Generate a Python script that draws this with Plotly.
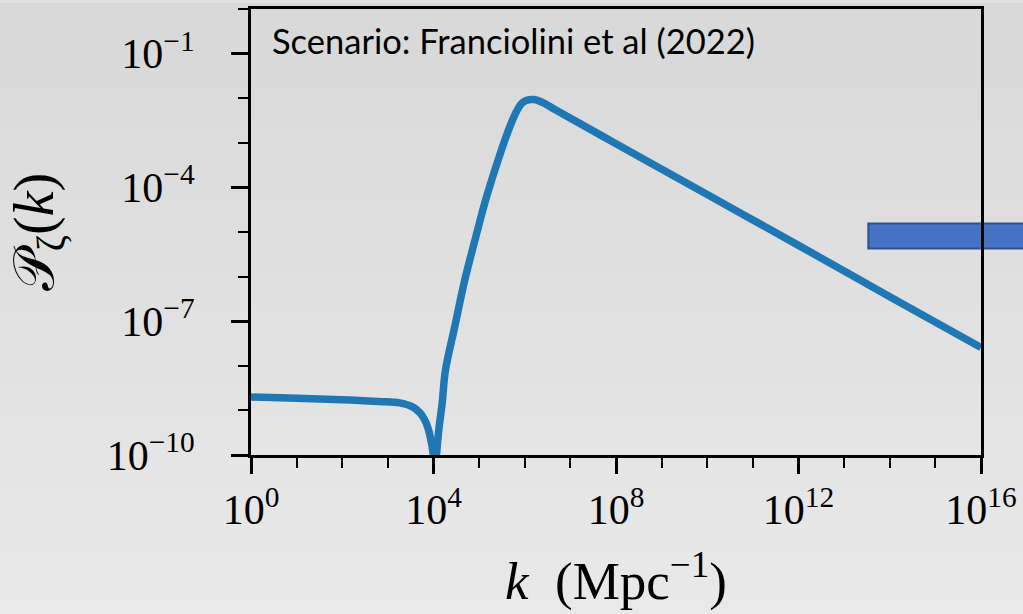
import numpy as np
import plotly.graph_objects as go

# ---- data (log10 values) ----
log_k = [0.00, 1.00, 2.00, 2.80, 3.26, 3.54, 3.70, 3.80, 3.88, 3.94, 3.99, 4.03,
         4.07, 4.12, 4.19, 4.26, 4.46, 4.68, 4.94, 5.11, 5.33, 5.55, 5.77, 5.92,
         6.03, 6.21, 6.40, 6.69, 8.00, 10.00, 12.00, 14.00, 16.00]
log_P = [-8.70, -8.73, -8.76, -8.80, -8.83, -8.92, -9.05, -9.20, -9.40, -9.65, -9.95, -10.6,
         -9.95, -9.40, -8.84, -8.11, -7.15, -6.10, -5.06, -4.40, -3.66, -2.98, -2.40, -2.13,
         -2.05, -2.03, -2.10, -2.27, -3.02, -4.16, -5.30, -6.45, -7.59]
k_vals = [10.0 ** v for v in log_k]
P_vals = [10.0 ** v for v in log_P]

x_major_exp = [0, 4, 8, 12, 16]
x_minor_exp = list(range(0, 17))
y_major_exp = [-10, -7, -4, -1]
y_minor_exp = list(range(-10, 1))

def pow_label(e):
    s = str(e).replace("-", "\u2212")
    return f"10<sup>{s}</sup>"

fig = go.Figure()
fig.add_trace(go.Scatter(x=k_vals, y=P_vals, mode="lines",
                         line=dict(color="#1f77b4", width=7.5, shape="spline", smoothing=1.0),
                         showlegend=False))

serif = "Liberation Serif, DejaVu Serif, serif"

fig.update_xaxes(type="log", range=[0, 16],
                 tickvals=[10.0 ** e for e in x_major_exp],
                 ticktext=[pow_label(e) for e in x_major_exp],
                 ticks="outside", ticklen=16, tickwidth=3, tickcolor="black",
                 showline=True, linewidth=3, linecolor="black", mirror=True,
                 showgrid=False, zeroline=False,
                 tickfont=dict(family=serif, size=42, color="black"),
                 minor=dict(tickvals=[10.0 ** e for e in x_minor_exp], ticks="outside",
                            ticklen=10, tickwidth=2, tickcolor="black", showgrid=False),
                 title=dict(text="<i>k</i>  (Mpc<sup>\u22121</sup>)",
                            font=dict(family=serif, size=53, color="black"), standoff=30))
fig.update_yaxes(type="log", range=[-10, 0],
                 tickvals=[10.0 ** e for e in y_major_exp],
                 ticktext=[pow_label(e) for e in y_major_exp],
                 ticks="outside", ticklen=17, tickwidth=3, tickcolor="black",
                 showline=True, linewidth=3, linecolor="black", mirror=True,
                 showgrid=False, zeroline=False,
                 tickfont=dict(family=serif, size=42, color="black"),
                 ticklabelstandoff=28,
                 minor=dict(tickvals=[10.0 ** e for e in y_minor_exp], ticks="outside",
                            ticklen=10, tickwidth=2, tickcolor="black", showgrid=False),
                 title=dict(text="\U0001D4AB<sub>\u03b6</sub>(<i>k</i>)",
                            font=dict(family=serif, size=56, color="black"), standoff=36))

# background gradient (paper coordinates, extended into margins)
L, R, T, B = 251, 983, 6, 455
W, H = 1023, 614
def px2x(px):
    return (px - L) / (R - L)
def py2y(py):
    return (B - py) / (B - T)

shapes = []
n = 40
c_top = np.array([0xd8, 0xd8, 0xd8])
c_bot = np.array([0xe9, 0xe9, 0xe9])
for i in range(n):
    y0p = H * i / n
    y1p = H * (i + 1) / n
    c = c_top + (c_bot - c_top) * (i + 0.5) / n
    col = "rgb(%d,%d,%d)" % tuple(int(round(v)) for v in c)
    shapes.append(dict(type="rect", xref="paper", yref="paper", layer="below",
                       x0=px2x(-5), x1=px2x(W + 5), y0=py2y(y1p + 1), y1=py2y(y0p),
                       fillcolor=col, line=dict(width=0)))
# blue arrow body (partially off-canvas)
shapes.append(dict(type="rect", xref="paper", yref="paper", layer="below",
                   x0=px2x(870), x1=px2x(W + 10), y0=py2y(247), y1=py2y(222),
                   fillcolor="#4472C4", line=dict(color="#2F528F", width=2)))

fig.update_layout(
    width=W, height=H,
    margin=dict(l=L, r=W - R, t=T, b=H - B),
    paper_bgcolor="#e2e2e2",
    plot_bgcolor="rgba(0,0,0,0)",
    shapes=shapes,
    annotations=[dict(text="Scenario: Franciolini et al (2022)", xref="paper", yref="paper",
                      x=px2x(270), y=py2y(38), xanchor="left", yanchor="middle",
                      showarrow=False,
                      font=dict(family="Lato, Open Sans, sans-serif", size=34.5, color="#000000"))],
)

fig.write_html("out.html")
